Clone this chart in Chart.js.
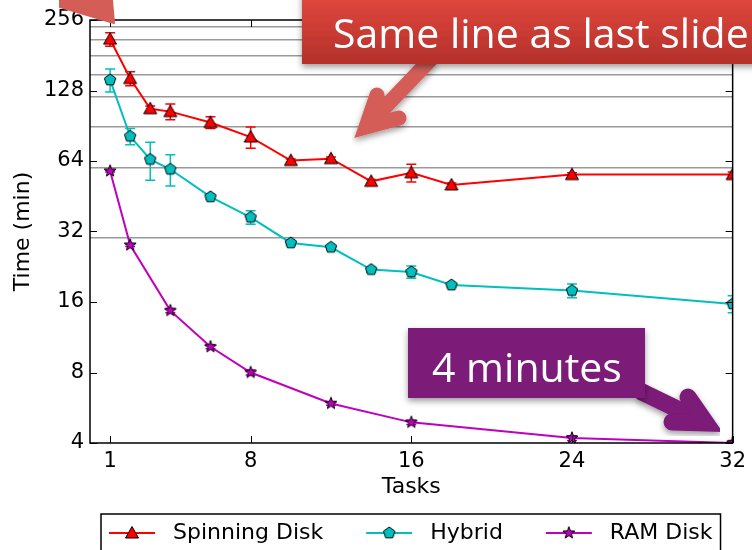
<!DOCTYPE html>
<html>
<head>
<meta charset="utf-8">
<script src="https://cdn.jsdelivr.net/npm/chart.js@4.4.0/dist/chart.umd.min.js"></script>
<style>
  html, body { margin: 0; padding: 0; background: #fff; overflow: hidden; }
  #wrap { position: relative; width: 752px; height: 550px; }
  #overlay { position: absolute; left: 0; top: 0; pointer-events: none; }
</style>
</head>
<body>
<div id="wrap">
<canvas id="chart" width="752" height="550"></canvas>
<svg id="overlay" width="752" height="550" viewBox="0 0 752 550">
  <defs>
    <linearGradient id="redGrad" x1="0" y1="0" x2="0" y2="1">
      <stop offset="0" stop-color="#e64a3f"/>
      <stop offset="1" stop-color="#b3302a"/>
    </linearGradient>
    <filter id="shadow" x="-20%" y="-20%" width="140%" height="160%">
      <feDropShadow dx="0" dy="3" stdDeviation="3" flood-color="#000" flood-opacity="0.4"/>
    </filter>
  </defs>
  <!-- arrow cut off at the top left -->
  <path d="M60,0 L60,7 L114,23 L112,0 Z" fill="#d45d58" stroke="#d45d58" stroke-width="2" stroke-linejoin="round"/>
  <!-- arrow under the red box -->
  <g filter="url(#shadow)" stroke="#d45d58" fill="none" stroke-width="15">
    <path d="M432,58 L366,127"/>
    <path d="M377,95 L366,127 L399,118" stroke-linecap="round" stroke-linejoin="miter"/>
  </g>
  <rect x="302" y="-10" width="460" height="74" fill="url(#redGrad)" filter="url(#shadow)"/>
  <text x="333" y="48" font-family="Open Sans" font-size="41" fill="#fff">Same line as last slide</text>
  <!-- purple arrow and box -->
  <g filter="url(#shadow)" stroke="#7b1a78" fill="none" stroke-width="17">
    <path d="M640,391 L706,423"/>
    <path d="M688,397 L706,423 L672,422" stroke-linecap="round" stroke-linejoin="miter"/>
  </g>
  <rect x="408" y="328" width="237" height="70" fill="#7b1a78" filter="url(#shadow)"/>
  <text x="432" y="382" font-family="Open Sans" font-size="41" fill="#fff">4 minutes</text>
</svg>
</div>
<script>
// values (minutes)
const tasks = [1, 2, 3, 4, 6, 8, 10, 12, 14, 16, 18, 24, 32];
const ramTasks = [1, 2, 4, 6, 8, 12, 16, 24, 32];
const spinningDisk = [212, 144, 107, 104, 93.5, 81, 64.3, 65.5, 52.4, 57, 50.6, 56, 56];
const spinningErr = [14, 10, 3, 8, 5.5, 8.5, 1, 1, 1, 5, 1, 1, 1.5];
const hybrid = [142, 81.6, 65, 59, 45, 36.8, 28.6, 27.4, 22, 21.5, 18.9, 17.9, 15.7];
const hybridErr = [16, 6.5, 12, 9, 1, 2.4, 0.5, 0.5, 0.5, 1.3, 0.3, 1.2, 1.3];
const ramDisk = [58, 28, 14.7, 10.3, 8.0, 5.9, 4.9, 4.2, 4.0];
const ramErr = [0.6, 0.4, 0.3, 0.2, 0.2, 0.1, 0.1, 0.1, 0.1];
const xTicks = [1, 8, 16, 24, 32];
const yTicks = [4, 8, 16, 32, 64, 128, 256];
const gridLines = [30, 60, 90, 120, 150, 180, 210, 240];

const RED = '#ff0000', CYAN = '#00bfbf', MAGENTA = '#bf00bf';

function makeMarker(fill, shape) {
    const size = 18, c = size / 2;
    const cv = document.createElement('canvas');
    cv.width = size;
    cv.height = size;
    const g = cv.getContext('2d');
    g.beginPath();
    if (shape === 'triangle') {
        g.moveTo(c, c - 6.5);
        g.lineTo(c + 6.5, c + 5);
        g.lineTo(c - 6.5, c + 5);
    } else {
        let n = shape === 'pentagon' ? 5 : 10;
        for (let k = 0; k < n; k++) {
            let a = -Math.PI / 2 + k * 2 * Math.PI / n;
            let r = shape === 'pentagon' ? 6 : (k % 2 ? 2.6 : 6.3);
            let px = c + r * Math.cos(a), py = c + r * Math.sin(a);
            if (k === 0) { g.moveTo(px, py); } else { g.lineTo(px, py); }
        }
    }
    g.closePath();
    g.fillStyle = fill;
    g.fill();
    g.lineWidth = 1;
    g.strokeStyle = '#000';
    g.stroke();
    return cv;
}

function points(xs, ys) {
    return xs.map((x, i) => ({x: x, y: ys[i]}));
}

const errorBars = {
    id: 'errorBars',
    beforeDatasetsDraw(chart) {
        const {ctx, chartArea: a, scales: {x, y}} = chart;
        ctx.save();
        ctx.beginPath();
        ctx.rect(a.left, a.top, a.right - a.left, a.bottom - a.top);
        ctx.clip();
        chart.data.datasets.forEach((ds) => {
            ctx.strokeStyle = ds.borderColor;
            ctx.lineWidth = 1.5;
            ds.data.forEach((p, i) => {
                let e = ds.errors[i];
                if (!e) {
                    return;
                }
                let px = x.getPixelForValue(p.x);
                let top = y.getPixelForValue(p.y + e);
                let bot = y.getPixelForValue(p.y - e);
                ctx.beginPath();
                ctx.moveTo(px, top); ctx.lineTo(px, bot);
                ctx.moveTo(px - 5, top); ctx.lineTo(px + 5, top);
                ctx.moveTo(px - 5, bot); ctx.lineTo(px + 5, bot);
                ctx.stroke();
            });
        });
        ctx.restore();
    }
};

// box round the plot with inward ticks on all four sides
const frame = {
    id: 'frame',
    afterDatasetsDraw(chart) {
        const {ctx, chartArea: a, scales: {x, y}} = chart;
        ctx.save();
        ctx.strokeStyle = '#000';
        ctx.lineWidth = 1;
        ctx.beginPath();
        xTicks.forEach((t) => {
            let px = Math.round(x.getPixelForValue(t)) + 0.5;
            ctx.moveTo(px, a.bottom); ctx.lineTo(px, a.bottom - 7);
            ctx.moveTo(px, a.top); ctx.lineTo(px, a.top + 7);
        });
        yTicks.forEach((t) => {
            let py = Math.round(y.getPixelForValue(t)) + 0.5;
            ctx.moveTo(a.left, py); ctx.lineTo(a.left + 7, py);
            ctx.moveTo(a.right, py); ctx.lineTo(a.right - 7, py);
        });
        ctx.stroke();
        ctx.lineWidth = 1.5;
        ctx.strokeRect(a.left, a.top, a.right - a.left, a.bottom - a.top);
        ctx.restore();
    }
};

// matplotlib style legend: line with marker, inside a box
const boxLegend = {
    id: 'boxLegend',
    afterDraw(chart) {
        const ctx = chart.ctx;
        const rowY = 533;
        ctx.save();
        ctx.font = '22px "DejaVu Sans"';
        ctx.textBaseline = 'middle';
        ctx.fillStyle = '#000';
        let cx = 109;
        chart.data.datasets.forEach((ds, i) => {
            ctx.strokeStyle = ds.borderColor;
            ctx.lineWidth = 2;
            ctx.beginPath();
            ctx.moveTo(cx, rowY); ctx.lineTo(cx + 46, rowY);
            ctx.stroke();
            let m = ds.pointStyle;
            ctx.drawImage(m, cx + 23 - m.width / 2, rowY - m.height / 2);
            cx += 64;
            ctx.fillText(ds.label, cx, rowY);
            cx += ctx.measureText(ds.label).width;
            if (i < chart.data.datasets.length - 1) {
                cx += 43;
            }
        });
        ctx.strokeStyle = '#000';
        ctx.lineWidth = 1.5;
        ctx.strokeRect(101, 514, cx + 8 - 101, 60);
        ctx.restore();
    }
};

const tickFont = {family: 'DejaVu Sans', size: 21};
const titleFont = {family: 'DejaVu Sans', size: 22};

new Chart(document.getElementById('chart'), {
    type: 'line',
    data: {
        datasets: [
            {
                label: 'Spinning Disk',
                data: points(tasks, spinningDisk),
                errors: spinningErr,
                borderColor: RED,
                pointStyle: makeMarker(RED, 'triangle'),
            },
            {
                label: 'Hybrid',
                data: points(tasks, hybrid),
                errors: hybridErr,
                borderColor: CYAN,
                pointStyle: makeMarker(CYAN, 'pentagon'),
            },
            {
                label: 'RAM Disk',
                data: points(ramTasks, ramDisk),
                errors: ramErr,
                borderColor: MAGENTA,
                pointStyle: makeMarker(MAGENTA, 'star'),
            },
        ]
    },
    options: {
        responsive: false,
        animation: false,
        devicePixelRatio: 1,
        layout: {padding: {top: 20, right: 19, bottom: 50, left: 0}},
        datasets: {
            line: {borderWidth: 2, tension: 0, clip: 0, pointRadius: 7}
        },
        plugins: {
            legend: {display: false},
            tooltip: {enabled: false}
        },
        scales: {
            x: {
                type: 'linear',
                min: 0,
                max: 32,
                afterBuildTicks: (s) => { s.ticks = xTicks.map((v) => ({value: v})); },
                afterFit: (s) => { s.height = 57; },
                grid: {display: false, drawTicks: false},
                border: {display: false},
                ticks: {font: tickFont, color: '#000', padding: 6, autoSkip: false, maxRotation: 0},
                title: {display: true, text: 'Tasks', font: titleFont, color: '#000', padding: 0}
            },
            y: {
                type: 'logarithmic',
                min: 4,
                max: 256,
                afterBuildTicks: (s) => {
                    s.ticks = yTicks.concat(gridLines).sort((a, b) => a - b).map((v) => ({value: v}));
                },
                afterFit: (s) => { s.width = 90; },
                grid: {
                    drawTicks: false,
                    lineWidth: 1.5,
                    color: (c) => (c.tick && gridLines.includes(c.tick.value)) ? '#999999' : 'rgba(0,0,0,0)'
                },
                border: {display: false},
                ticks: {
                    font: tickFont,
                    color: '#000',
                    padding: 6,
                    autoSkip: false,
                    callback: (v) => yTicks.includes(v) ? String(v) : ''
                },
                title: {display: true, text: 'Time (min)', font: titleFont, color: '#000', padding: {top: 10, bottom: 0}}
            }
        }
    },
    plugins: [errorBars, frame, boxLegend]
});
</script>
</body>
</html>
